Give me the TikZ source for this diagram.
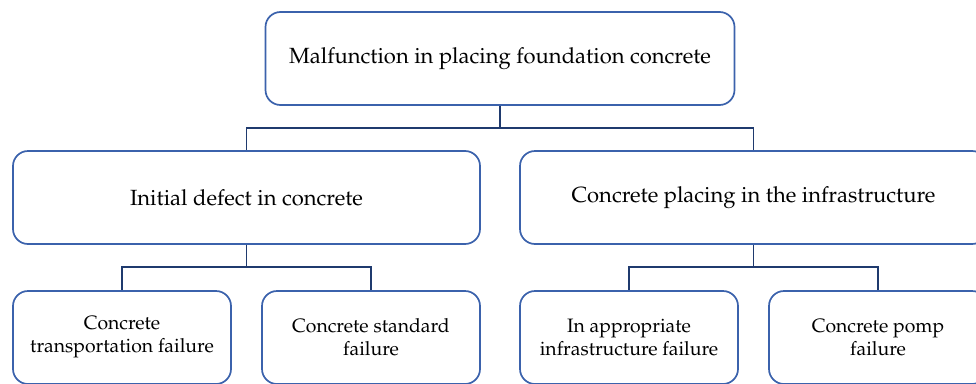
\documentclass[tikz,border=0pt]{standalone}
\usepackage[T1]{fontenc}
\usepackage{mathpazo}
\definecolor{boxblue}{HTML}{3B62AC}
\definecolor{connblue}{HTML}{1F3A6E}
\tikzset{
  fbox/.style={draw=boxblue, line width=1.7pt, rounded corners=15pt, fill=white, align=center, inner sep=0pt},
  bigbox/.style={fbox, minimum width=467pt, minimum height=93pt, font=\fontsize{22}{26}\selectfont},
  smallbox/.style={fbox, minimum width=218pt, minimum height=93pt, font=\fontsize{19.4}{23}\selectfont},
  conn/.style={draw=connblue, line width=1.7pt}
}
\begin{document}
\begin{tikzpicture}[x=1pt,y=-1pt]
\useasboundingbox (0,0) rectangle (976,383);
\clip (0,0) rectangle (976,383);
\node[bigbox, minimum width=469pt] (top) at (500,58.5) {Malfunction in placing foundation concrete};
\node[bigbox] (ml) at (246.5,197.5) {Initial defect in concrete};
\node[bigbox] (mr) at (753.5,197.5) {Concrete placing in the infrastructure};
\node[smallbox] (b1) at (122,337.5) {Concrete\\transportation failure};
\node[smallbox] (b2) at (371,337.5) {Concrete standard\\failure};
\node[smallbox] (b3) at (629,337.5) {In appropriate\\infrastructure failure};
\node[smallbox] (b4) at (878,337.5) {Concrete pomp\\failure};
\draw[conn] (top.south) -- (top.south |- 0,128) -| (ml.north);
\draw[conn] (top.south) -- (top.south |- 0,128) -| (mr.north);
\draw[conn] (ml.south) -- (ml.south |- 0,267) -| (b1.north);
\draw[conn] (ml.south) -- (ml.south |- 0,267) -| (b2.north);
\draw[conn] (mr.south) -- (mr.south |- 0,267) -| (b3.north);
\draw[conn] (mr.south) -- (mr.south |- 0,267) -| (b4.north);
\end{tikzpicture}
\end{document}
